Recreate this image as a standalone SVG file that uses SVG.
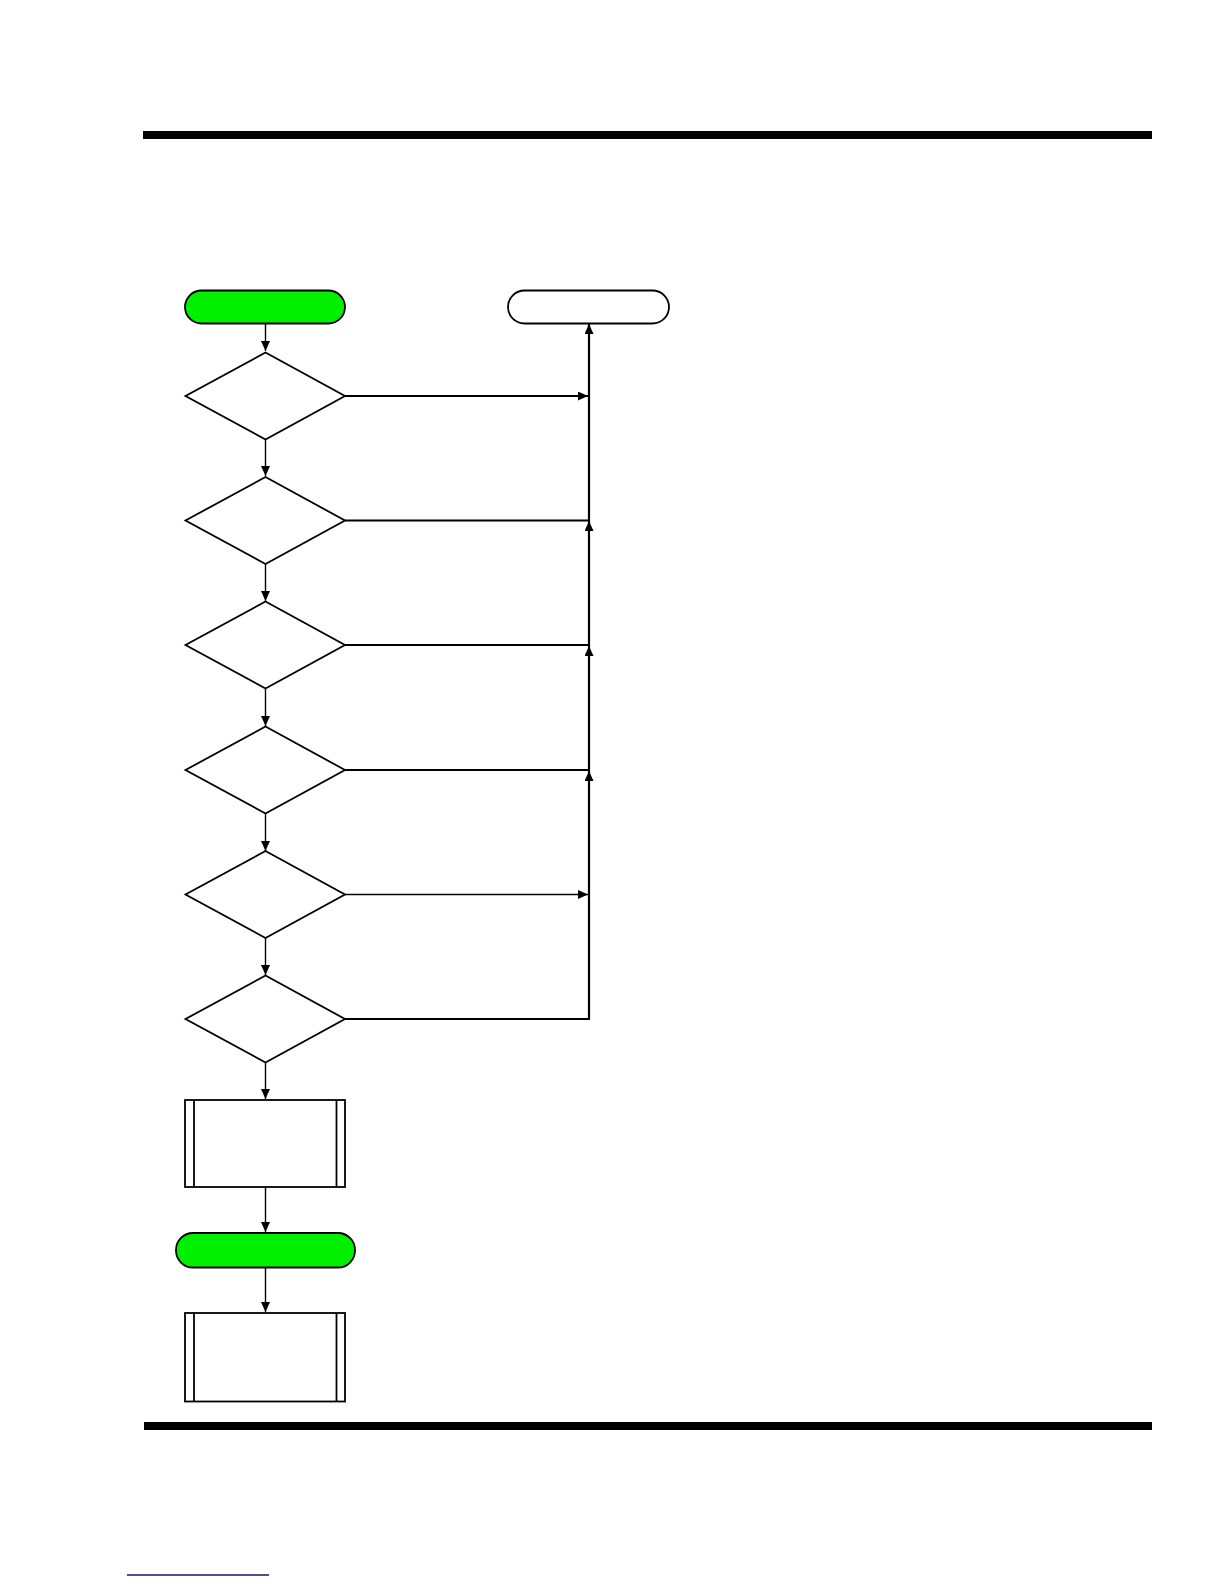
<svg xmlns="http://www.w3.org/2000/svg" width="1224" height="1584" viewBox="0 0 1224 1584">
<defs>
<style>
.t{stroke:#000;stroke-width:1.8}
.g{fill:#00f000}
.w{fill:#fff}
.d{fill:#fff;stroke:#000;stroke-width:1.8}
.p{fill:#fff;stroke:#000;stroke-width:1.8}
.c{fill:none;stroke:#000;stroke-width:1.4}
.c2{fill:none;stroke:#000;stroke-width:2.2}
</style>
<marker id="ah" viewBox="0 0 10 10" refX="10" refY="5" markerWidth="10" markerHeight="9" markerUnits="userSpaceOnUse" orient="auto" preserveAspectRatio="none">
<path d="M0,0 L10,5 L0,10 z" fill="#000"/>
</marker>
</defs>
<rect width="1224" height="1584" fill="#fff"/>
<rect x="143" y="131" width="1009" height="8" fill="#000"/>
<rect x="144" y="1422" width="1008" height="8" fill="#000"/>
<line x1="127" y1="1575" x2="269" y2="1575" stroke="#10107a" stroke-width="1.6"/>

<g id="connectors">
<path class="c" d="M265.5,323 V351" marker-end="url(#ah)"/>
<path class="c" d="M265.5,439.5 V476" marker-end="url(#ah)"/>
<path class="c" d="M265.5,564 V601" marker-end="url(#ah)"/>
<path class="c" d="M265.5,689 V726" marker-end="url(#ah)"/>
<path class="c" d="M265.5,813 V851" marker-end="url(#ah)"/>
<path class="c" d="M265.5,938 V975" marker-end="url(#ah)"/>
<path class="c" d="M265.5,1062.5 V1099" marker-end="url(#ah)"/>
<path class="c" d="M265.5,1187 V1232" marker-end="url(#ah)"/>
<path class="c" d="M265.5,1268 V1312" marker-end="url(#ah)"/>
<path class="c2" d="M345,396 H588" marker-end="url(#ah)"/>
<path class="c2" d="M345,520.5 H589 V324" marker-end="url(#ah)"/>
<path class="c2" d="M345,645 H589 V521" marker-end="url(#ah)"/>
<path class="c2" d="M345,770 H589 V646" marker-end="url(#ah)"/>
<path class="c" d="M345,894.5 H588" marker-end="url(#ah)"/>
<path class="c2" d="M345,1019 H589 V771" marker-end="url(#ah)"/>
</g>

<g id="start"><rect x="185" y="290.5" width="160" height="33" rx="16.5" class="g t"/></g>
<g id="end"><rect x="508" y="290.5" width="161" height="33" rx="16.5" class="w t"/></g>
<g id="d1"><polygon class="d" points="265.5,352.5 345,396 265.5,439.5 185.5,396"/></g>
<g id="d2"><polygon class="d" points="265.5,477 345,520.5 265.5,564 185.5,520.5"/></g>
<g id="d3"><polygon class="d" points="265.5,601.5 345,645 265.5,688.5 185.5,645"/></g>
<g id="d4"><polygon class="d" points="265.5,726.5 345,770 265.5,813.5 185.5,770"/></g>
<g id="d5"><polygon class="d" points="265.5,851 345,894.5 265.5,938 185.5,894.5"/></g>
<g id="d6"><polygon class="d" points="265.5,975.5 345,1019 265.5,1062.5 185.5,1019"/></g>
<g id="proc1">
<rect class="p" x="185" y="1100" width="160" height="87"/>
<line class="t" x1="194" y1="1100" x2="194" y2="1187"/>
<line class="t" x1="336.5" y1="1100" x2="336.5" y2="1187"/>
</g>
<g id="term2"><rect x="176" y="1233" width="179" height="34.5" rx="17" class="g t"/></g>
<g id="proc2">
<rect class="p" x="185" y="1313" width="160" height="88.5"/>
<line class="t" x1="194" y1="1313" x2="194" y2="1401.5"/>
<line class="t" x1="336.5" y1="1313" x2="336.5" y2="1401.5"/>
</g>
</svg>
